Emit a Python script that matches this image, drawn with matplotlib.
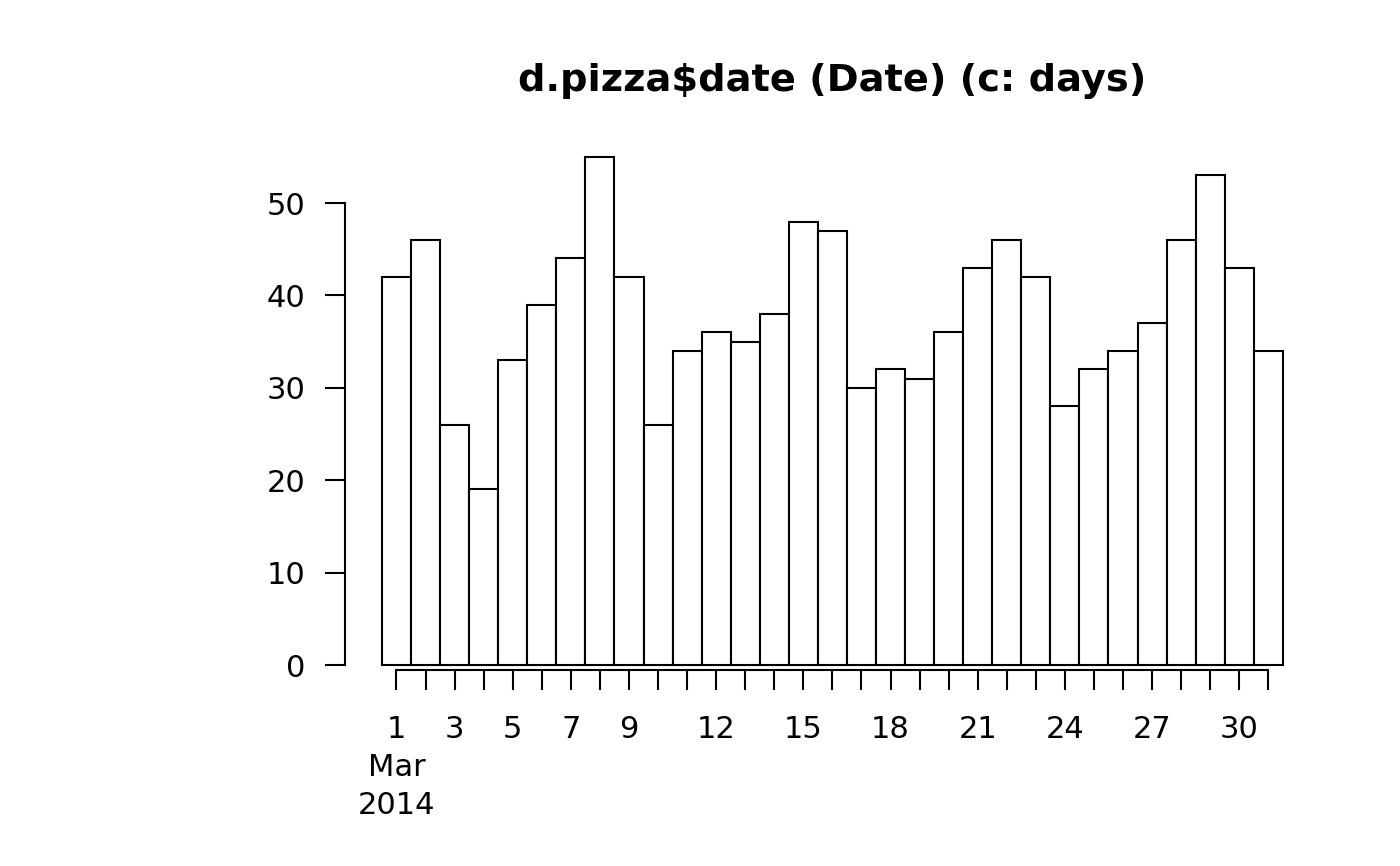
import numpy as np
import matplotlib.pyplot as plt

days = list(range(1, 32))
counts = [42, 46, 26, 19, 33, 39, 44, 55, 42, 26, 34, 36, 35, 38, 48, 47,
          30, 32, 31, 36, 43, 46, 42, 28, 32, 34, 37, 46, 53, 43, 34]
label_days = [1, 3, 5, 7, 9, 12, 15, 18, 21, 24, 27, 30]
title = "d.pizza$date (Date) (c: days)"

plt.rcParams['font.family'] = ['DejaVu Sans']

fig = plt.figure(figsize=(14, 8.66), dpi=100)
ax = fig.add_axes([345 / 1400, 196 / 866, 974 / 1400, 520 / 866])

x = np.arange(len(days))
ax.bar(x, counts, width=1, color="white", edgecolor="black", linewidth=1.5)

ax.set_xlim(-1.772, 31.745)
ax.set_ylim(-0.541, 55.74)

for s in ["top", "right"]:
    ax.spines[s].set_visible(False)
ax.spines["left"].set_bounds(0, 50)
ax.spines["bottom"].set_bounds(0, len(days) - 1)
for s in ["left", "bottom"]:
    ax.spines[s].set_linewidth(1.5)

ax.set_yticks(range(0, 51, 10))
ax.set_xticks(x, minor=True)
labels = []
for d in label_days:
    labels.append("1\nMar\n2014" if d == 1 else str(d))
ax.set_xticks([d - 1 for d in label_days])
ax.set_xticklabels(labels, linespacing=1.4, va="top")
ax.tick_params(axis="both", which="both", direction="out", length=14.4,
               width=1.5, labelsize=22)
ax.tick_params(axis="x", which="major", pad=18)
ax.tick_params(axis="y", pad=14)

fig.text(832 / 1400, 1 - 81 / 866, title, ha="center", va="center",
         fontsize=27.6, fontweight="bold")

fig.savefig("out.png", dpi=100)
